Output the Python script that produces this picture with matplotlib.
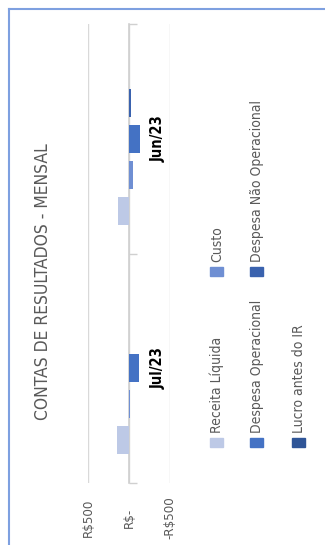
import matplotlib.pyplot as plt
from matplotlib.patches import Rectangle
from matplotlib.lines import Line2D
import numpy as np

plt.rcParams['font.family'] = ['DejaVu Sans']
plt.rcParams['font.stretch'] = 'condensed'

# data (bottom category first)
meses = ["Jul/23", "Jun/23"]
series = ["Receita Líquida", "Custo", "Despesa Operacional",
          "Despesa Não Operacional", "Lucro antes do IR"]
receita = [146, 134]
custo = [-10, -43]
desp_op = [-128, -140]
desp_nao_op = [0, -30]
lucro = [0, 0]
ticks = [500, 0, -500]
tick_labels = ["R$500", "R$-", "-R$500"]
colors = ["#BDC9E6", "#6F8FD3", "#4472C4", "#3A62AE", "#2F5597"]

W, H = 325, 545
fig = plt.figure(figsize=(W / 100, H / 100), dpi=100)

def fx(px):
    return px / W

def fy(py):
    return 1 - py / H

# plot area (chart is shown turned on its side)
ax = fig.add_axes([fx(88), fy(483), fx(170) - fx(88), fy(24) - fy(483)])
values = [receita, custo, desp_op, desp_nao_op, lucro]
y = np.arange(len(meses))
bw = 0.157
for i, (vals, c) in enumerate(zip(values, colors)):
    ax.barh(y + (i - 2) * bw, vals, height=bw * 0.78, color=c, zorder=3)

ax.set_xlim(500, -500)
ax.set_ylim(-0.5, 1.5)
for s in ["top", "bottom", "right"]:
    ax.spines[s].set_visible(False)
ax.spines["left"].set_position(("data", 0))
ax.spines["left"].set_color("#D0D0D0")
ax.spines["left"].set_linewidth(1.2)
ax.set_yticks([-0.5, 0.5, 1.5])
ax.set_yticklabels([])
ax.tick_params(axis="y", direction="in", length=6, color="#D0D0D0", width=1)
ax.set_xticks(ticks)
ax.set_xticklabels([])
ax.tick_params(axis="x", length=0)
ax.grid(axis="x", color="#D9D9D9", linewidth=1, zorder=0)
for t, lab in zip(ticks, tick_labels):
    ax.annotate(lab, (t, -0.5), xytext=(0, -35), textcoords="offset pixels",
                rotation=90, ha="center", va="center", fontsize=9.5,
                color="#595959", annotation_clip=False)

for yi, m in zip(y, meses):
    ax.annotate(m, (0, yi), xytext=(29, 0), textcoords="offset pixels",
                rotation=90, ha="center", va="center", fontsize=10.5,
                fontweight="bold", color="black")

# title
fig.text(fx(43), fy(282), "CONTAS DE RESULTADOS - MENSAL", rotation=90,
         ha="center", va="center", fontsize=12.5, color="#595959")

# legend
legend_pos = [(210, 438), (210, 267), (250, 438), (250, 267), (292, 438)]
for (lx, ly), name, c in zip(legend_pos, series, colors):
    fig.patches.append(Rectangle((fx(lx), fy(ly + 9)), fx(13), 9 / H,
                                 transform=fig.transFigure, color=c))
    fig.text(fx(lx + 7), fy(ly - 5), name, rotation=90, ha="center",
             va="bottom", fontsize=10, color="#595959")

# frame border
fig.add_artist(Line2D([fx(9), fx(9)], [fy(9), 0], color="#7EA0E0", lw=1.5))
fig.add_artist(Line2D([fx(9), 1], [fy(9), fy(9)], color="#7EA0E0", lw=1.5))

fig.savefig("out.png", dpi=100)
